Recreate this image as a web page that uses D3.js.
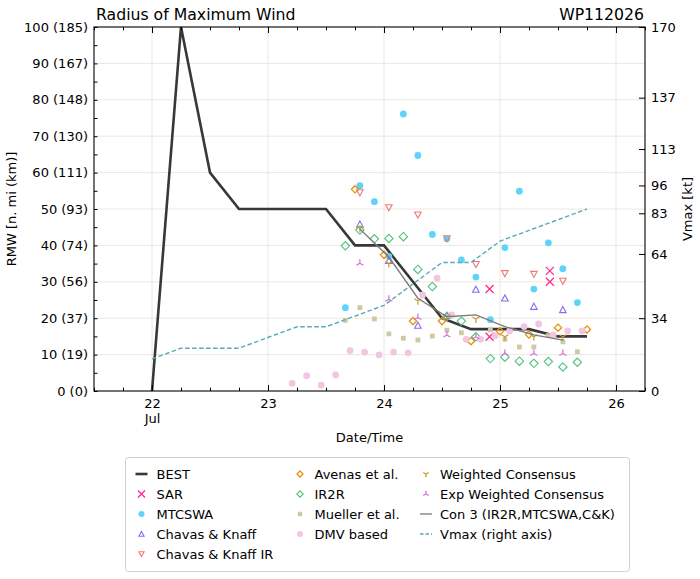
<!DOCTYPE html>
<html><head><meta charset="utf-8">
<script src="https://cdn.jsdelivr.net/npm/d3@7"></script>
<style>
body{margin:0;background:#fff;}
svg{display:block;font-family:"DejaVu Sans",sans-serif;}
</style></head>
<body><svg id="c" width="700" height="579"></svg>
<script>
// ---------------- data ----------------
const bestTime = [22.0,22.25,22.5,22.75,23.0,23.25,23.5,23.75,24.0,24.25,24.5,24.75,25.0,25.25,25.5,25.75];
const bestRMW  = [0,100,60,50,50,50,50,40,40,30,20,17,17,17,15,15];
const vmaxKt   = [15,20,20,20,25,30,30,35,40,50,60,60,70,75,80,85];

const sarTime = [24.91,24.91,25.43,25.43];
const sarRMW  = [28.0,14.9,33.0,30.0];

const threeHourly = [23.667,23.792,23.917,24.042,24.167,24.292,24.417,24.542,24.667,24.792,24.917,25.042,25.167,25.292,25.417,25.542,25.667];
const mtcswaRMW = [22.9,56.4,52.0,37.0,76.1,64.7,43.0,41.8,36.0,31.3,19.6,39.4,54.9,28.0,40.7,33.6,24.3];
const ir2rRMW   = [39.9,44.2,41.8,41.9,42.4,33.4,28.7,20.5,19.2,14.9,8.9,9.3,8.2,7.6,8.1,6.6,7.9];

const ckTime   = [23.792,24.042,24.292,24.542,24.792,25.042,25.292,25.542];
const ckRMW    = [45.8,35.8,18.0,20.7,27.9,25.5,23.2,22.3];
const ckirRMW  = [54.5,50.4,48.4,41.9,34.8,32.3,32.1,30.2];
const wcRMW    = [44.7,35.0,24.8,20.5,19.8,14.9,14.9,14.9];
const ewcRMW   = [35.1,25.2,20.2,15.4,14.9,10.3,10.3,10.3];
const con3RMW  = [44.5,36.8,25.5,20.4,20.9,17.7,15.4,14.0];

const avenasTime = [23.75,24.0,24.25,24.5,24.75,25.0,25.25,25.5,25.75];
const avenasRMW  = [55.4,37.4,19.2,19.2,13.7,16.4,15.5,17.4,16.9];

const muellerTime = [23.667,23.792,23.917,24.042,24.167,24.292,24.417,24.542,24.667,24.917,25.042,25.167,25.292,25.417,25.542,25.667];
const muellerRMW  = [19.4,22.9,19.8,15.7,14.5,14.0,15.1,16.7,16.0,16.8,14.2,12.1,12.1,15.2,13.5,10.8];

const dmvTime = [23.208,23.333,23.458,23.583,23.708,23.833,23.958,24.083,24.208,24.333,24.458,24.583,24.708,24.833,24.958,25.083,25.208,25.333,25.458,25.583,25.708];
const dmvRMW  = [2.1,4.2,1.6,4.4,11.1,10.7,9.9,10.7,10.5,26.4,31.0,20.9,14.2,14.2,15.2,16.5,17.7,18.4,15.4,16.5,16.5];

const xMajorTicks = [22,23,24,25,26];
const xTickLabels = ["22","23","24","25","26"];
const xMonthLabel = "Jul";
const yTicks = [0,10,20,30,40,50,60,70,80,90,100];
const yTickLabels = ["0 (0)","10 (19)","20 (37)","30 (56)","40 (74)","50 (93)","60 (111)","70 (130)","80 (148)","90 (167)","100 (185)"];
const rightTicks = [0,34,64,83,96,113,137,170];

// ---------------- layout ----------------
const L=94, R=645, T=27, B=391;
const svg = d3.select("#c");
const x = d3.scaleLinear().domain([21.5,26.25]).range([L,R]);
const y = d3.scaleLinear().domain([0,100]).range([B,T]);
const yR = d3.scaleLinear().domain([0,170]).range([B,T]);

const C = {
  best:"#383838", sar:"#ff2a90", mtcswa:"#5fd3fa", ck:"#8a6cf0", ckir:"#f07a7a",
  avenas:"#e8900c", ir2r:"#4fc27e", mueller:"#cdc9a4", dmv:"#f2c6e2",
  wc:"#c99a26", ewc:"#d46ed8", con3:"#7a7a7a", vmax:"#5aa8bb"
};

// grid
const grid = svg.append("g");
xMajorTicks.forEach(t=>grid.append("line").attr("x1",x(t)).attr("x2",x(t)).attr("y1",T).attr("y2",B)
  .attr("stroke","#ece8df").attr("stroke-width",1));
yTicks.slice(1,-1).forEach(v=>grid.append("line").attr("x1",L).attr("x2",R).attr("y1",y(v)).attr("y2",y(v))
  .attr("stroke","#ece8df").attr("stroke-width",1));

// symbols
function sym(type,s){
  switch(type){
    case "x": return `M${-s},${-s}L${s},${s}M${-s},${s}L${s},${-s}`;
    case "tu": return `M0,${-s}L${s},${s*0.85}L${-s},${s*0.85}Z`;
    case "td": return `M0,${s}L${s},${-s*0.85}L${-s},${-s*0.85}Z`;
    case "D": return `M0,${-s}L${s},0L0,${s}L${-s},0Z`;
    case "sq": return `M${-s},${-s}H${s}V${s}H${-s}Z`;
    case "o": return d3.symbol(d3.symbolCircle, Math.PI*s*s)();
    case "Y": return `M0,0L0,${s}M0,0L${-0.87*s},${-0.5*s}M0,0L${0.87*s},${-0.5*s}`;
    case "L": return `M0,0L0,${-s}M0,0L${-0.87*s},${0.5*s}M0,0L${0.87*s},${0.5*s}`;
  }
}
const series = [
  {name:"SAR", t:sarTime, v:sarRMW, type:"x", col:C.sar, fill:false, s:4, sl:3.5, sw:1.3},
  {name:"MTCSWA", t:threeHourly, v:mtcswaRMW, type:"o", col:C.mtcswa, fill:true, s:3.4, sl:3},
  {name:"Chavas & Knaff", t:ckTime, v:ckRMW, type:"tu", col:C.ck, fill:false, s:3.3, sl:2.6, sw:1.1},
  {name:"Chavas & Knaff IR", t:ckTime, v:ckirRMW, type:"td", col:C.ckir, fill:false, s:3.3, sl:2.6, sw:1.1},
  {name:"Avenas et al.", t:avenasTime, v:avenasRMW, type:"D", col:C.avenas, fill:false, s:3.6, sl:3, sw:1.3},
  {name:"IR2R", t:threeHourly, v:ir2rRMW, type:"D", col:C.ir2r, fill:false, s:4.2, sl:3.2, sw:1.1},
  {name:"Mueller et al.", t:muellerTime, v:muellerRMW, type:"sq", col:C.mueller, fill:true, s:2.4, sl:2.2},
  {name:"DMV based", t:dmvTime, v:dmvRMW, type:"o", col:C.dmv, fill:true, s:3.4, sl:3},
  {name:"Weighted Consensus", t:ckTime, v:wcRMW, type:"Y", col:C.wc, fill:false, s:4, sl:3.2, sw:1.2},
  {name:"Exp Weighted Consensus", t:ckTime, v:ewcRMW, type:"L", col:C.ewc, fill:false, s:4, sl:3.2, sw:1.2}
];

// BEST line
const line = d3.line().x(d=>x(d[0])).y(d=>y(d[1]));
const clip = svg.append("clipPath").attr("id","pc").append("rect").attr("x",L).attr("y",T).attr("width",R-L).attr("height",B-T);
const plot = svg.append("g").attr("clip-path","url(#pc)");
plot.append("path").datum(d3.zip(bestTime,bestRMW)).attr("d",line)
  .attr("fill","none").attr("stroke",C.best).attr("stroke-width",2.6).attr("stroke-linejoin","miter");

series.forEach(sr=>{
  const g = plot.append("g");
  d3.zip(sr.t,sr.v).forEach(d=>{
    g.append("path").attr("d",sym(sr.type,sr.s))
      .attr("transform",`translate(${x(d[0])},${y(d[1])})`)
      .attr("fill",sr.fill?sr.col:"none")
      .attr("stroke",sr.fill?"none":sr.col)
      .attr("stroke-width",sr.sw||1);
  });
});

// Con 3 line
plot.append("path").datum(d3.zip(ckTime,con3RMW)).attr("d",line)
  .attr("fill","none").attr("stroke",C.con3).attr("stroke-width",1.3);

// Vmax line (right axis)
const lineR = d3.line().x(d=>x(d[0])).y(d=>yR(d[1]));
plot.append("path").datum(d3.zip(bestTime,vmaxKt)).attr("d",lineR)
  .attr("fill","none").attr("stroke",C.vmax).attr("stroke-width",1.4).attr("stroke-dasharray","4.5,2.5");

// ---------------- axes ----------------
const fs = 13;
function styleAxis(g){ g.select(".domain").remove(); g.selectAll("text").attr("font-size",fs).attr("fill","#000").attr("font-family","DejaVu Sans"); g.selectAll("line").attr("stroke","#000"); }

const minorX = d3.range(21.5,26.26,0.25).filter(v=>Math.abs(v-Math.round(v))>0.01);
// bottom
svg.append("g").attr("transform",`translate(0,${B})`)
  .call(d3.axisBottom(x).tickValues(xMajorTicks).tickSize(-6).tickPadding(8).tickFormat((d,i)=>xTickLabels[i])).call(styleAxis)
  .call(g=>g.selectAll(".tick").filter((d,i)=>i===0).select("text")
      .append("tspan").attr("x",0).attr("dy","1.15em").text(xMonthLabel));
svg.append("g").attr("transform",`translate(0,${B})`)
  .call(d3.axisBottom(x).tickValues(minorX).tickSize(-3.3).tickFormat("")).call(styleAxis);
// top
svg.append("g").attr("transform",`translate(0,${T})`)
  .call(d3.axisTop(x).tickValues(xMajorTicks).tickSize(-6).tickFormat("")).call(styleAxis);
svg.append("g").attr("transform",`translate(0,${T})`)
  .call(d3.axisTop(x).tickValues(minorX).tickSize(-3.3).tickFormat("")).call(styleAxis);
// left
svg.append("g").attr("transform",`translate(${L},0)`)
  .call(d3.axisLeft(y).tickValues(yTicks).tickSize(-3.5).tickPadding(6).tickFormat((d,i)=>yTickLabels[i])).call(styleAxis);
svg.append("g").attr("transform",`translate(${L},0)`)
  .call(d3.axisLeft(y).tickValues(d3.range(5,100,10)).tickSize(-3.5).tickFormat("")).call(styleAxis);
// right
svg.append("g").attr("transform",`translate(${R},0)`)
  .call(d3.axisRight(yR).tickValues(rightTicks).tickSize(-6).tickPadding(6)).call(styleAxis);

// frame
svg.append("rect").attr("x",L).attr("y",T).attr("width",R-L).attr("height",B-T)
  .attr("fill","none").attr("stroke","#000").attr("stroke-width",1.1);

// titles
svg.append("text").attr("x",96).attr("y",20).attr("font-size",15.7).text("Radius of Maximum Wind");
svg.append("text").attr("x",644).attr("y",20).attr("font-size",15.7).attr("text-anchor","end").text("WP112026");
svg.append("text").attr("transform",`translate(16,${(T+B)/2}) rotate(-90)`).attr("text-anchor","middle")
  .attr("font-size",fs).text("RMW [n. mi (km)]");
svg.append("text").attr("transform",`translate(692,${(T+B)/2}) rotate(-90)`).attr("text-anchor","middle")
  .attr("font-size",fs).text("Vmax [kt]");
svg.append("text").attr("x",(L+R)/2).attr("y",442).attr("text-anchor","middle").attr("font-size",fs).text("Date/Time");

// ---------------- legend ----------------
const lg = svg.append("g");
lg.append("rect").attr("x",125.5).attr("y",457.5).attr("width",504).attr("height",114).attr("rx",3)
  .attr("fill","#fff").attr("stroke","#d0d0d0").attr("stroke-width",1);
const cols = [{mx:141.5,tx:156.5},{mx:300,tx:314.5},{mx:426,tx:440}];
const legendItems = [
  {name:"BEST", kind:"line", col:C.best, w:2.6},
  ...series.slice(0,4),
  ...series.slice(4,8),
  ...series.slice(8,10),
  {name:"Con 3 (IR2R,MTCSWA,C&K)", kind:"line", col:C.con3, w:1.3},
  {name:"Vmax (right axis)", kind:"dash", col:C.vmax, w:1.4}
];
const colOf = [0,0,0,0,0,1,1,1,1,2,2,2,2];
const rowOf = [0,1,2,3,4,0,1,2,3,0,1,2,3];
legendItems.forEach((it,i)=>{
  const c = cols[colOf[i]], yy = 474 + rowOf[i]*20;
  if(it.kind==="line"||it.kind==="dash"){
    lg.append("line").attr("x1",c.mx-6).attr("x2",c.mx+6).attr("y1",yy).attr("y2",yy)
      .attr("stroke",it.col).attr("stroke-width",it.w).attr("stroke-dasharray",it.kind==="dash"?"3.5,2":null);
  } else {
    lg.append("path").attr("d",sym(it.type,it.sl)).attr("transform",`translate(${c.mx},${yy})`)
      .attr("fill",it.fill?it.col:"none").attr("stroke",it.fill?"none":it.col).attr("stroke-width",it.sw||1);
  }
  lg.append("text").attr("x",c.tx).attr("y",yy).attr("dy","0.36em").attr("font-size",fs).text(it.name);
});
</script></body></html>
